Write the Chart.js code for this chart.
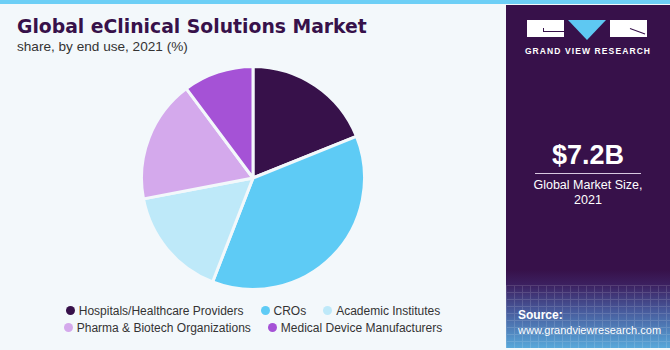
<!DOCTYPE html>
<html>
<head>
<meta charset="utf-8">
<script src="https://cdn.jsdelivr.net/npm/chart.js@4"></script>
<style>
  html, body { margin: 0; padding: 0; }
  body { width: 670px; height: 350px; position: relative; overflow: hidden; background: #f3f8fb; font-family: "Liberation Sans", Arial, sans-serif; }
  #topbar { position: absolute; left: 0; top: 0; width: 670px; height: 4px; background: #6dcff6; }
  #title { position: absolute; left: 17px; top: 16px; font-family: "DejaVu Sans", sans-serif; font-size: 18.8px; font-weight: bold; color: #37114a; white-space: nowrap; }
  #subtitle { position: absolute; left: 17px; top: 39px; font-size: 13.6px; color: #333; white-space: nowrap; }
  #pieWrap { position: absolute; left: 140px; top: 65px; width: 226px; height: 226px; }
  #legend { position: absolute; left: 0; width: 506px; top: 302px; font-size: 12px; color: #333; }
  .row { display: flex; justify-content: center; height: 17px; align-items: center; }
  .item { display: flex; align-items: center; margin: 0 8.5px; white-space: nowrap; }
  .dot { width: 9px; height: 9px; border-radius: 50%; margin-right: 4px; }
  #panel { position: absolute; left: 506px; top: 5px; width: 164px; height: 343px; background: linear-gradient(to bottom, #37114a 0px, #37114a 265px, #3c2060 280px, #47589a 305px, #58a8da 343px); }
  #grid { position: absolute; left: 0; top: 280px; width: 164px; height: 63px; opacity: 0.13;
    background-image: linear-gradient(to right, #ffffff 1px, transparent 1px), linear-gradient(to bottom, #ffffff 1px, transparent 1px);
    background-size: 8px 7px; }
  .blk { position: absolute; top: 15px; height: 17px; background: #fff; }
  #tri { position: absolute; left: 62px; top: 15px; width: 0; height: 0; border-left: 19px solid transparent; border-right: 19px solid transparent; border-top: 20px solid #5ec8f2; }
  #gvr { position: absolute; left: 0; width: 164px; top: 41px; text-align: center; font-size: 8.5px; font-weight: bold; letter-spacing: 1.1px; color: #fff; }
  #size { position: absolute; left: 0; width: 164px; top: 135px; text-align: center; font-size: 27px; font-weight: bold; color: #fff; }
  #line { position: absolute; left: 29px; width: 106px; top: 168px; height: 1px; background: #d8c8e0; }
  #sizeLbl { position: absolute; left: 0; width: 164px; top: 173px; text-align: center; font-size: 12.5px; line-height: 15px; color: #fff; }
  #src { position: absolute; left: 12px; top: 303px; font-size: 11px; line-height: 15px; color: #fff; }
  #src b { font-size: 12px; }
</style>
</head>
<body>
<div id="topbar"></div>
<div id="title">Global eClinical Solutions Market</div>
<div id="subtitle">share, by end use, 2021 (%)</div>
<div id="pieWrap"><canvas id="pie" width="226" height="226"></canvas></div>
<div id="legend"></div>
<div id="panel">
  <div id="grid"></div>
  <div class="blk" style="left:21px;width:37px;"></div>
  <div style="position:absolute;left:37px;top:26px;width:21px;height:1px;background:#37114a;"></div>
  <div style="position:absolute;left:37px;top:23px;width:1px;height:4px;background:#37114a;"></div>
  <div id="tri"></div>
  <div class="blk" style="left:104px;width:37px;"></div>
  <div style="position:absolute;left:124px;top:23px;width:16px;height:1px;background:#37114a;transform:rotate(20deg);transform-origin:left;"></div>
  <div id="gvr">GRAND VIEW RESEARCH</div>
  <div id="size">$7.2B</div>
  <div id="line"></div>
  <div id="sizeLbl">Global Market Size,<br>2021</div>
  <div id="src"><b>Source:</b><br>www.grandviewresearch.com</div>
</div>
<script>
const categories = ['Hospitals/Healthcare Providers', 'CROs', 'Academic Institutes', 'Pharma & Biotech Organizations', 'Medical Device Manufacturers'];
const shares = [18.9, 37.0, 16.1, 17.8, 10.2];
const colors = ['#37114a', '#5ecbf5', '#bee9f9', '#d4a9ec', '#a552d6'];
const legendRows = [[0, 1, 2], [3, 4]];

new Chart(document.getElementById('pie'), {
  type: 'pie',
  data: {
    labels: categories,
    datasets: [{
      data: shares,
      backgroundColor: colors,
      borderColor: '#f3f8fb',
      borderWidth: 3,
    }],
  },
  options: {
    responsive: false,
    animation: false,
    events: [],
    plugins: { legend: { display: false }, tooltip: { enabled: false } },
  },
});

// legend built from the same arrays
const legend = document.getElementById('legend');
legendRows.forEach((row) => {
  const r = document.createElement('div');
  r.className = 'row';
  row.forEach((i) => {
    const it = document.createElement('div');
    it.className = 'item';
    const d = document.createElement('span');
    d.className = 'dot';
    d.style.background = colors[i];
    it.appendChild(d);
    it.appendChild(document.createTextNode(categories[i]));
    r.appendChild(it);
  });
  legend.appendChild(r);
});
</script>
</body>
</html>
